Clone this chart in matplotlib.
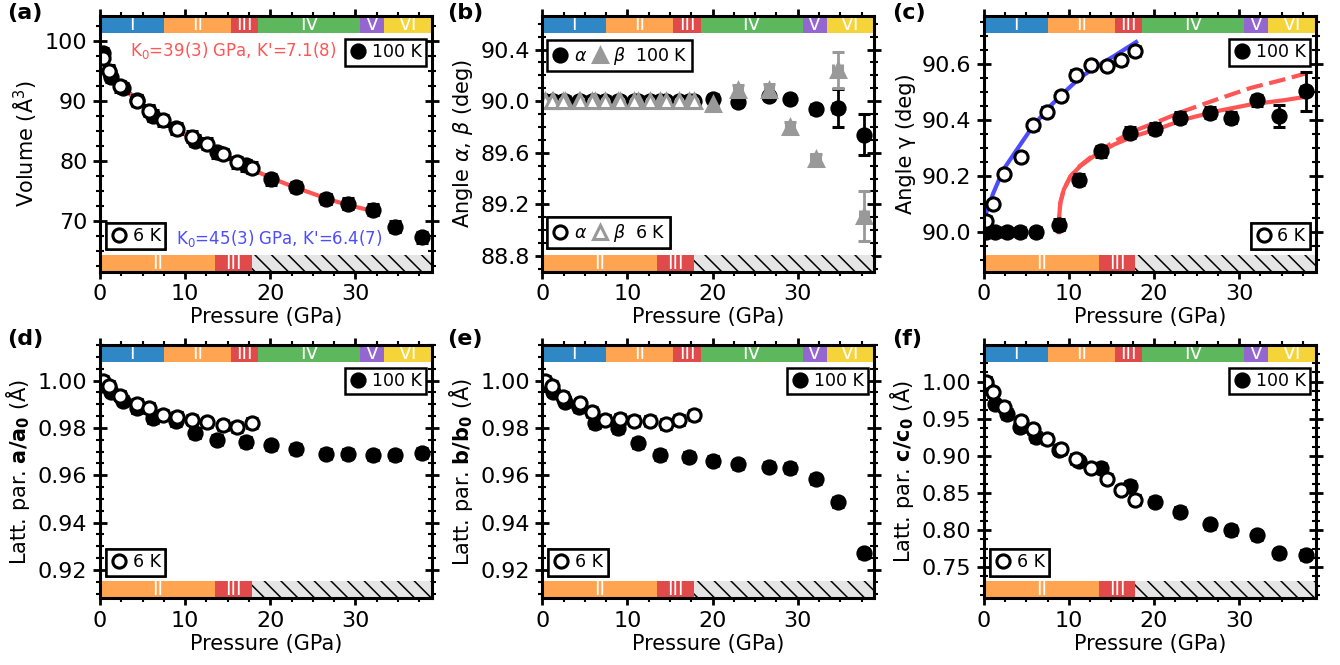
import matplotlib
matplotlib.use('Agg')
import matplotlib.pyplot as plt
from matplotlib.patches import Rectangle
from matplotlib.lines import Line2D
from matplotlib.ticker import MultipleLocator, FormatStrFormatter

# ---------------- data ----------------
P_100K = [0.3, 1.3, 2.7, 4.3, 6.2, 8.9, 11.2, 13.8, 17.2, 20.1, 23.0, 26.6, 29.1, 32.1, 34.7, 37.8]
P_6K = [0.3, 1.1, 2.4, 4.4, 5.8, 7.4, 9.1, 10.8, 12.6, 14.5, 16.1, 17.8]

V_100K = [97.9, 94.0, 92.1, 90.1, 87.5, 85.4, 83.3, 81.4, 79.2, 76.9, 75.6, 73.6, 72.8, 71.8, 69.0, 67.2]
V_6K = [97.1, 95.0, 92.4, 90.0, 88.3, 86.7, 85.3, 84.0, 82.8, 81.1, 79.7, 78.8]
V_fit100_P = [0.0, 1.3, 2.7, 4.3, 6.2, 8.9, 11.2, 13.8, 17.2, 20.1, 23.0, 26.6, 29.1, 32.1]
V_fit100 = [97.4, 94.5, 92.2, 90.0, 87.8, 85.3, 83.3, 81.3, 79.0, 77.1, 75.5, 73.7, 72.6, 71.6]
V_fit6_P = [0.0, 1.1, 2.4, 4.4, 5.8, 7.4, 9.1, 10.8, 12.6, 14.5, 16.1, 17.8]
V_fit6 = [97.5, 95.2, 92.8, 90.0, 88.3, 86.6, 85.1, 83.7, 82.4, 81.0, 79.9, 78.8]

alpha_100K = [90.0, 90.0, 90.0, 90.0, 90.0, 90.0, 90.0, 90.0, 90.0, 90.02, 89.995, 90.04, 90.02, 89.94, 89.944, 89.74]
alpha_100K_err = [0.01, 0.01, 0.01, 0.01, 0.01, 0.01, 0.01, 0.01, 0.01, 0.03, 0.03, 0.03, 0.03, 0.03, 0.148, 0.16]
beta_100K = [90.0, 90.0, 90.0, 90.0, 90.0, 90.0, 90.0, 90.0, 90.0, 89.975, 90.084, 90.09, 89.80, 89.554, 90.242, 89.108]
beta_100K_err = [0.01, 0.01, 0.01, 0.01, 0.01, 0.01, 0.01, 0.01, 0.01, 0.03, 0.04, 0.04, 0.04, 0.04, 0.137, 0.194]
alpha_6K = [90.0, 90.0, 90.0, 90.0, 90.0, 90.0, 90.0, 90.0, 90.0, 90.0, 90.0, 90.0]
beta_6K = [90.0, 90.0, 90.0, 90.0, 90.0, 90.0, 90.0, 90.0, 90.0, 90.0, 90.0, 90.0]

gamma_100K = [90.0, 90.0, 90.0, 90.0, 90.0, 90.026, 90.187, 90.288, 90.354, 90.368, 90.407, 90.425, 90.407, 90.469, 90.413, 90.502]
gamma_100K_err = [0.015, 0.015, 0.015, 0.015, 0.015, 0.02, 0.02, 0.02, 0.02, 0.02, 0.02, 0.02, 0.02, 0.02, 0.04, 0.07]
gamma_6K = [90.038, 90.101, 90.208, 90.268, 90.38, 90.429, 90.485, 90.561, 90.596, 90.592, 90.612, 90.645]
gfit6_P = [0.0, 0.3, 1.1, 2.3, 3.9, 5.5, 7.4, 9.4, 11.3, 13.3, 15.3, 17.9]
gfit6 = [90.03, 90.07, 90.137, 90.222, 90.294, 90.365, 90.437, 90.496, 90.55, 90.591, 90.627, 90.677]
gfit100_P = [8.8, 8.85, 9.0, 9.4, 10.2, 11.3, 12.9, 15.3, 17.6, 20.8, 23.5, 27.4, 31.4, 35.3, 37.8]
gfit100 = [90.0, 90.05, 90.104, 90.151, 90.199, 90.234, 90.27, 90.312, 90.341, 90.371, 90.401, 90.431, 90.455, 90.47, 90.482]
gfit100d_P = [8.8, 8.85, 9.0, 9.4, 10.2, 11.3, 12.9, 15.3, 17.6, 19.6, 23.5, 27.4, 31.4, 35.3, 37.8]
gfit100d = [90.0, 90.05, 90.104, 90.151, 90.199, 90.236, 90.275, 90.322, 90.36, 90.383, 90.431, 90.473, 90.514, 90.544, 90.565]

a_100K = [0.998, 0.9954, 0.9915, 0.9884, 0.9842, 0.9828, 0.9779, 0.9751, 0.9741, 0.9727, 0.9712, 0.9692, 0.9692, 0.9684, 0.9684, 0.9695]
a_6K = [1.000, 0.9978, 0.9937, 0.9902, 0.9884, 0.9856, 0.9846, 0.9835, 0.9824, 0.9811, 0.9804, 0.9821]
b_100K = [0.999, 0.9954, 0.9911, 0.9887, 0.9820, 0.9799, 0.9735, 0.9686, 0.9679, 0.9662, 0.9646, 0.9637, 0.9630, 0.9583, 0.9486, 0.9270]
b_6K = [1.000, 0.9977, 0.9932, 0.9904, 0.9869, 0.9834, 0.9837, 0.9831, 0.9831, 0.9817, 0.9834, 0.9855]
c_100K = [0.995, 0.970, 0.957, 0.939, 0.925, 0.908, 0.893, 0.884, 0.860, 0.838, 0.825, 0.808, 0.800, 0.793, 0.769, 0.767]
c_6K = [1.000, 0.986, 0.966, 0.947, 0.936, 0.923, 0.909, 0.896, 0.884, 0.869, 0.854, 0.841]

# phase bars
top_phase_edges = [0, 7.5, 15.4, 18.6, 30.6, 33.4, 39]
top_phase_names = ['I', 'II', 'III', 'IV', 'V', 'VI']
top_phase_colors = ['#2f88c5', '#ffa552', '#e04a4a', '#5db85d', '#9467d0', '#f5d43a']
bot_phase_edges = [0, 13.5, 17.8, 39]
bot_phase_names = ['II', 'III', '']
bot_phase_colors = ['#ffa552', '#e04a4a', '#e5e5e5']

# ---------------- style ----------------
plt.rcParams['font.family'] = 'DejaVu Sans'
plt.rcParams['hatch.linewidth'] = 1.1
RED = '#ff5555'
BLUE = '#4d4dff'
GRAY = '#999999'
MS = 9.5
MEW = 2.2

fig = plt.figure(figsize=(13.4, 6.65), dpi=100)
W = 0.2478
lefts = [0.0746, 0.4047, 0.7341]
top_b, top_h = 0.591, 0.385
bot_b, bot_h = 0.1003, 0.381

axes = []
for row in range(2):
    for col in range(3):
        b, h = (top_b, top_h) if row == 0 else (bot_b, bot_h)
        axes.append(fig.add_axes([lefts[col], b, W, h]))
axA, axB, axC, axD, axE, axF = axes

BAR = 0.067


def style(ax, ylim, ymaj, ymin, fmt):
    ax.set_xlim(0, 39)
    ax.set_ylim(*ylim)
    ax.xaxis.set_major_locator(MultipleLocator(10))
    ax.xaxis.set_minor_locator(MultipleLocator(2.5))
    ax.yaxis.set_major_locator(MultipleLocator(ymaj))
    ax.yaxis.set_minor_locator(MultipleLocator(ymin))
    if fmt:
        ax.yaxis.set_major_formatter(FormatStrFormatter(fmt))
    ax.tick_params(which='both', direction='inout', top=True, right=True, labelsize=16, pad=4)
    ax.tick_params(which='major', length=10, width=2)
    ax.tick_params(which='minor', length=6, width=1.5)
    for s in ax.spines.values():
        s.set_linewidth(2.2)
        s.set_zorder(10)
    ax.set_xlabel('Pressure (GPa)', fontsize=15, labelpad=2)
    tr = ax.get_xaxis_transform()
    for i, name in enumerate(top_phase_names):
        x0, x1 = top_phase_edges[i], top_phase_edges[i + 1]
        ax.add_patch(Rectangle((x0, 1 - BAR), x1 - x0, BAR, transform=tr,
                               facecolor=top_phase_colors[i], edgecolor='none', zorder=5))
        ax.text((x0 + x1) / 2, 1 - BAR / 2, name, transform=tr, color='white',
                ha='center', va='center', fontsize=13.5, zorder=6)
    for i, name in enumerate(bot_phase_names):
        x0, x1 = bot_phase_edges[i], bot_phase_edges[i + 1]
        if name:
            ax.add_patch(Rectangle((x0, 0), x1 - x0, BAR, transform=tr,
                                   facecolor=bot_phase_colors[i], edgecolor='none', zorder=5))
            ax.text((x0 + x1) / 2, BAR / 2, name, transform=tr, color='white',
                    ha='center', va='center', fontsize=13.5, zorder=6)
        else:
            ax.add_patch(Rectangle((x0, 0), x1 - x0, BAR, transform=tr,
                                   facecolor=bot_phase_colors[i], edgecolor='black',
                                   linewidth=0, hatch='\\\\', zorder=5))


def pts(ax, x, y, yerr, filled, marker='o', color='k', xerr=None):
    if filled:
        mfc, mec = color, color
    else:
        mfc, mec = 'white', color
    ax.errorbar(x, y, yerr=yerr, xerr=xerr, fmt=marker, ms=MS, mfc=mfc, mec=mec, mew=MEW,
                ecolor=color, elinewidth=2, capsize=4, capthick=2, zorder=4)


def leg(ax, handles, labels, loc, anchor, ncol=1):
    lg = ax.legend(handles, labels, loc=loc, bbox_to_anchor=anchor, ncol=ncol,
                   fontsize=12.5, frameon=True, fancybox=False, framealpha=1,
                   edgecolor='black', borderpad=0.25, handletextpad=0.3,
                   handlelength=1.0, columnspacing=0.2, borderaxespad=0)
    lg.get_frame().set_linewidth(1.8)
    lg.set_zorder(12)
    ax.add_artist(lg)
    return lg


h_fill = Line2D([], [], marker='o', ls='none', mfc='k', mec='k', ms=MS, mew=MEW)
h_open = Line2D([], [], marker='o', ls='none', mfc='white', mec='k', ms=MS, mew=MEW)
h_tri_fill = Line2D([], [], marker='^', ls='none', mfc=GRAY, mec=GRAY, ms=MS + 1, mew=MEW)
h_tri_open = Line2D([], [], marker='^', ls='none', mfc='white', mec=GRAY, ms=MS + 1, mew=MEW)

xerr100 = [0.5] * len(P_100K)
xerr6 = [0.5] * len(P_6K)

# (a)
style(axA, (61.45, 104.1), 10, 2.5, None)
axA.plot(V_fit6_P, V_fit6, color=BLUE, lw=3, zorder=2)
axA.plot(V_fit100_P, V_fit100, color=RED, lw=3, zorder=2)
pts(axA, P_100K, V_100K, [0.9] * len(P_100K), True, xerr=xerr100)
pts(axA, P_6K, V_6K, [0.9] * len(P_6K), False, xerr=xerr6)
axA.set_ylabel('Volume (Å$^3$)', fontsize=15)
axA.text(0.711, 0.867, "K$_0$=39(3) GPa, K'=7.1(8)", transform=axA.transAxes, color=RED,
         fontsize=12, ha='right', va='center')
axA.text(0.228, 0.132, "K$_0$=45(3) GPa, K'=6.4(7)", transform=axA.transAxes, color=BLUE,
         fontsize=12, ha='left', va='center')
leg(axA, [h_fill], ['100 K'], 'upper right', (0.982, 0.91))
leg(axA, [h_open], ['6 K'], 'lower left', (0.018, 0.089))

# (b)
style(axB, (88.676, 90.66), 0.4, 0.1, '%.1f')
pts(axB, P_100K, alpha_100K, alpha_100K_err, True, xerr=xerr100)
pts(axB, P_6K, alpha_6K, [0.01] * len(P_6K), False, xerr=xerr6)
pts(axB, P_100K, beta_100K, beta_100K_err, True, marker='^', color=GRAY, xerr=xerr100)
pts(axB, P_6K, beta_6K, [0.01] * len(P_6K), False, marker='^', color=GRAY, xerr=xerr6)
axB.set_ylabel(r'Angle $\alpha$, $\beta$ (deg)', fontsize=15)
leg(axB, [h_fill, h_tri_fill], [r'$\alpha$', r'$\beta$  100 K'], 'upper left', (0.015, 0.905), ncol=2)
leg(axB, [h_open, h_tri_open], [r'$\alpha$', r'$\beta$  6 K'], 'lower left', (0.015, 0.093), ncol=2)

# (c)
style(axC, (89.858, 90.77), 0.2, 0.05, '%.1f')
axC.plot(gfit6_P, gfit6, color=BLUE, lw=3, zorder=2)
axC.plot(gfit100_P, gfit100, color=RED, lw=3, zorder=2)
axC.plot(gfit100d_P, gfit100d, color=RED, lw=3, ls=(0, (4, 1.6)), zorder=2)
pts(axC, P_100K, gamma_100K, gamma_100K_err, True, xerr=xerr100)
pts(axC, P_6K, gamma_6K, [0.015] * len(P_6K), False, xerr=xerr6)
axC.set_ylabel('Angle γ (deg)', fontsize=15)
leg(axC, [h_fill], ['100 K'], 'upper right', (0.982, 0.91))
leg(axC, [h_open], ['6 K'], 'lower right', (0.982, 0.089))

# (d)
style(axD, (0.908, 1.0151), 0.02, 0.005, '%.2f')
pts(axD, P_100K, a_100K, [0.002] * len(P_100K), True, xerr=xerr100)
pts(axD, P_6K, a_6K, [0.002] * len(P_6K), False, xerr=xerr6)
axD.set_ylabel(r'Latt. par. $\mathbf{a/a_0}$ (Å)', fontsize=15)
leg(axD, [h_fill], ['100 K'], 'upper right', (0.982, 0.91))
leg(axD, [h_open], ['6 K'], 'lower left', (0.018, 0.089))

# (e)
style(axE, (0.908, 1.0151), 0.02, 0.005, '%.2f')
pts(axE, P_100K, b_100K, [0.002] * len(P_100K), True, xerr=xerr100)
pts(axE, P_6K, b_6K, [0.002] * len(P_6K), False, xerr=xerr6)
axE.set_ylabel(r'Latt. par. $\mathbf{b/b_0}$ (Å)', fontsize=15)
leg(axE, [h_fill], ['100 K'], 'upper right', (0.982, 0.91))
leg(axE, [h_open], ['6 K'], 'lower left', (0.018, 0.089))

# (f)
style(axF, (0.708, 1.0496), 0.05, 0.0125, '%.2f')
pts(axF, P_100K, c_100K, [0.006] * len(P_100K), True, xerr=xerr100)
pts(axF, P_6K, c_6K, [0.006] * len(P_6K), False, xerr=xerr6)
axF.set_ylabel(r'Latt. par. $\mathbf{c/c_0}$ (Å)', fontsize=15)
leg(axF, [h_fill], ['100 K'], 'upper right', (0.982, 0.91))
leg(axF, [h_open], ['6 K'], 'lower left', (0.018, 0.089))

# panel labels
for lab, x, y in [('(a)', 0.005, 0.995), ('(b)', 0.334, 0.995), ('(c)', 0.666, 0.995),
                  ('(d)', 0.005, 0.505), ('(e)', 0.334, 0.505), ('(f)', 0.666, 0.505)]:
    fig.text(x, y, lab, fontsize=16, fontweight='bold', ha='left', va='top')

fig.savefig('out.png', dpi=100)
